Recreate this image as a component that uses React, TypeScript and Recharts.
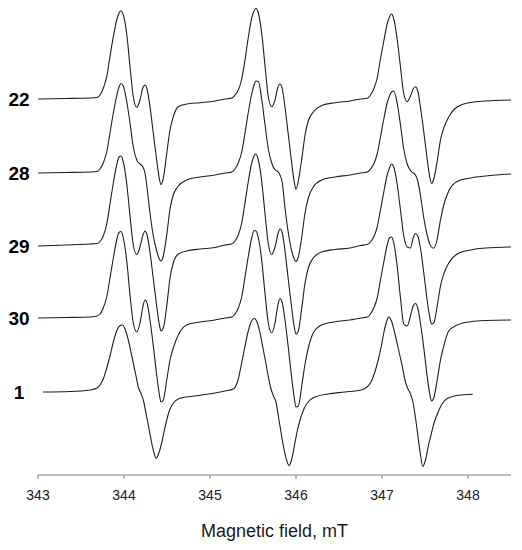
import { LineChart, Line, XAxis, YAxis, Label } from 'recharts';

// magnetic field grid (mT) shared by samples 22, 28, 29, 30
const field = [
  343.0, 343.314, 343.605, 343.686,
  343.721, 343.759, 343.799, 343.837, 343.876, 343.915, 343.942, 343.965, 343.992, 344.031,
  344.07, 344.108, 344.148, 344.186, 344.217, 344.244, 344.271, 344.302, 344.341, 344.38,
  344.41, 344.43, 344.457, 344.497, 344.535, 344.573, 344.631, 344.729, 344.884, 345.058,
  345.174, 345.256,
  345.291, 345.329, 345.369, 345.407, 345.446, 345.485, 345.512, 345.535, 345.562, 345.601,
  345.64, 345.678, 345.718, 345.756, 345.787, 345.814, 345.841, 345.872, 345.911, 345.95,
  345.98, 346.0, 346.027, 346.067, 346.105, 346.143, 346.201, 346.299, 346.454, 346.628,
  346.75, 346.831,
  346.866, 346.904, 346.944, 346.982, 347.021, 347.06, 347.087, 347.11, 347.137, 347.176,
  347.215, 347.253, 347.293, 347.331, 347.362, 347.389, 347.416, 347.447, 347.486, 347.525,
  347.555, 347.575, 347.602, 347.642, 347.68, 347.718, 347.776, 347.874, 348.029, 348.203,
  348.5,
];

const trace22 = [
  0, 0.5, 1, 1.5,
  4, 10.7, 22.3, 42.3, 62.3, 79, 86, 88.3, 84, 65.7,
  32.3, 2.3, -8.3, -1, 10.7, 14, 9, -7.7, -34.3, -61,
  -79.3, -85.5, -79.3, -54.3, -31, -17.7, -7.7, -5, -3.7, -2,
  0, 1,
  4, 9, 20, 39, 62, 81, 88, 90.7, 86, 66,
  33, 2, -7.7, -1, 11, 15, 10, -8, -36, -64,
  -83, -90.3, -82, -60, -36, -22, -13, -6.5, -3.7, -2,
  0, 0.7,
  4, 10, 21, 40, 58, 75, 82, 85, 80, 60,
  32, 5, -2.7, 3, 10, 12.3, 8, -8, -33, -60,
  -78, -84.3, -80, -62, -41, -29, -18, -8, -3.5, -2,
  -1,
];

const trace28 = [
  0, 0.5, 1, 1.5,
  4, 10, 21, 40, 60, 77, 86, 89.5, 87, 72,
  50, 26, 13, 9, 6.5, 0, -17, -40, -63, -78,
  -86, -88, -83, -62, -36, -22, -13, -7, -4, -2,
  0, 1,
  4, 10, 21, 40, 61, 79, 88, 92, 91.5, 74,
  48, 24, 10, 3, 1.5, -2, -10, -35, -60, -78,
  -86, -88.5, -84, -64, -40, -25, -14, -7, -4, -2,
  0, 1,
  4, 9, 19, 36, 54, 70, 77, 81, 82, 70,
  48, 24, 9, 2.5, 0, -2, -8, -22, -45, -62,
  -71, -74, -75.3, -66, -47, -32, -18, -8.5, -5, -3,
  -1,
];

const trace29 = [
  0, 1, 2, 2.5,
  4.5, 10, 22, 42, 63, 81, 89, 90, 84, 63,
  30, 1, -8.5, -1, 10, 15, 10, -6, -33, -60,
  -78, -85, -82, -60, -32, -17, -8, -5, -3, -1.5,
  1, 2,
  5, 11, 23, 43, 65, 83, 90, 92, 86, 65,
  32, 2, -8.5, -1, 11, 17, 13, -5, -34, -62,
  -81, -88, -85, -62, -37, -22, -12, -6, -3.5, -2,
  0.5, 1.5,
  4, 9, 19, 36, 54, 71, 78, 82, 79, 62,
  36, 10, -1, -2, 8, 12.5, 10, -2, -27, -54,
  -71, -78, -77, -60, -40, -28, -17, -8, -4, -2,
  -1,
];

const trace30 = [
  0, 0.5, 1, 2,
  4, 10, 21, 40, 60, 78, 85.5, 86.5, 80, 58,
  23, -5, -14, -5, 10, 18, 14, -2, -28, -57,
  -76, -84, -82, -62, -42, -30, -17, -7, -4, -2,
  0, 1,
  4, 10, 21, 41, 62, 80, 87.5, 87, 80, 58,
  24, -5, -15, -5, 12, 19.5, 15, -2, -30, -60,
  -80, -89, -88, -68, -46, -30, -15, -7, -3.7, -2,
  0, 1,
  4, 10, 20, 38, 56, 73, 80, 81, 75, 52,
  20, -6, -8, 2, 12, 14.5, 10, -5, -30, -58,
  -76, -83, -80, -62, -42, -28, -13, -7, -3.7, -2.5,
  -2,
];

// sample 1 was recorded on its own field grid
const field1 = [
  343.058, 343.372, 343.605, 343.686, 343.721, 343.759, 343.799, 343.837, 343.876, 343.915,
  343.948, 343.98, 344.012, 344.05, 344.081, 344.108, 344.14, 344.166, 344.198, 344.224,
  344.264, 344.291, 344.322, 344.349, 344.372, 344.401, 344.438, 344.465, 344.497, 344.535,
  344.573, 344.628, 344.69, 344.817, 345.058, 345.174, 345.271,
  345.326, 345.366, 345.407, 345.448, 345.483, 345.515, 345.547, 345.587, 345.616, 345.645,
  345.674, 345.703, 345.738, 345.767, 345.802, 345.831, 345.86, 345.89, 345.919, 345.948,
  345.983, 346.012, 346.047, 346.097, 346.151, 346.221, 346.369, 346.57, 346.756,
  346.826, 346.872, 346.913, 346.953, 346.988, 347.023, 347.052, 347.078, 347.11, 347.151,
  347.18, 347.209, 347.238, 347.267, 347.297, 347.326, 347.36, 347.39, 347.419, 347.448,
  347.473, 347.506, 347.541, 347.57, 347.605, 347.648, 347.698, 347.764, 347.919, 348.055,
];

const trace1 = [
  0, 0.5, 2, 4, 7, 13, 24, 36, 50, 61,
  66, 67, 63, 52, 40, 29, 16, 5, -1.5, -8,
  -25, -37, -51, -61, -66.3, -62, -51, -40, -28, -17,
  -11.3, -7, -5.5, -4, -1, 1, 3,
  12, 28, 46, 62, 71, 73.5, 70, 57, 44, 31,
  17, 5, -4, -10, -28, -43, -57, -68, -73.5, -68,
  -53, -40, -28, -16, -9, -5, -2, 0, 2,
  5, 10, 19, 31, 44, 60, 70, 75, 71, 58,
  47, 36, 25, 12, 4, -1, -10, -26, -45, -63,
  -74.5, -68, -53, -43, -31, -21, -12, -6.3, -3, -2.3,
];

const sampleNames = ['22', '28', '29', '30', '1'];
const baselines = [376, 302, 229, 157, 83];
const fieldTicks = [343, 344, 345, 346, 347, 348];

const toRows = (xs: number[], ys: number[], base: number) =>
  xs.map((x, i) => ({ field: x, value: ys[i] + base }));

const series = [
  toRows(field, trace22, baselines[0]),
  toRows(field, trace28, baselines[1]),
  toRows(field, trace29, baselines[2]),
  toRows(field, trace30, baselines[3]),
  toRows(field1, trace1, baselines[4]),
];

const SampleTick = (props: any) => {
  const { y, payload } = props;
  const idx = baselines.indexOf(payload.value);
  return (
    <text x={19} y={y} dy="0.36em" textAnchor="middle" fontSize={19} fontWeight="bold" fill="#000">
      {sampleNames[idx]}
    </text>
  );
};

export default function App() {
  return (
    <div style={{ position: 'absolute', left: 0, top: 0, width: 522, height: 550, background: '#fff' }}>
      <LineChart
        width={522}
        height={550}
        margin={{ top: 0, right: 11, bottom: 0, left: 0 }}
        style={{ fontFamily: '"Liberation Sans", Arial, sans-serif' }}
      >
        <XAxis
          dataKey="field"
          type="number"
          domain={[343, 348.5]}
          ticks={fieldTicks}
          allowDataOverflow
          height={75}
          tickSize={4}
          tickMargin={11}
          stroke="#808080"
          tick={{ fill: '#1a1a1a', fontSize: 14 }}
        >
          <Label value="Magnetic field, mT" position="insideBottom" offset={13} fill="#1a1a1a" fontSize={18} />
        </XAxis>
        <YAxis
          type="number"
          domain={[0, 475]}
          ticks={baselines}
          width={38}
          axisLine={false}
          tickLine={false}
          tick={<SampleTick />}
        />
        {series.map((rows, i) => (
          <Line
            key={sampleNames[i]}
            data={rows}
            dataKey="value"
            type="monotone"
            stroke="#1e1e1e"
            strokeWidth={1.1}
            dot={false}
            isAnimationActive={false}
          />
        ))}
      </LineChart>
    </div>
  );
}
